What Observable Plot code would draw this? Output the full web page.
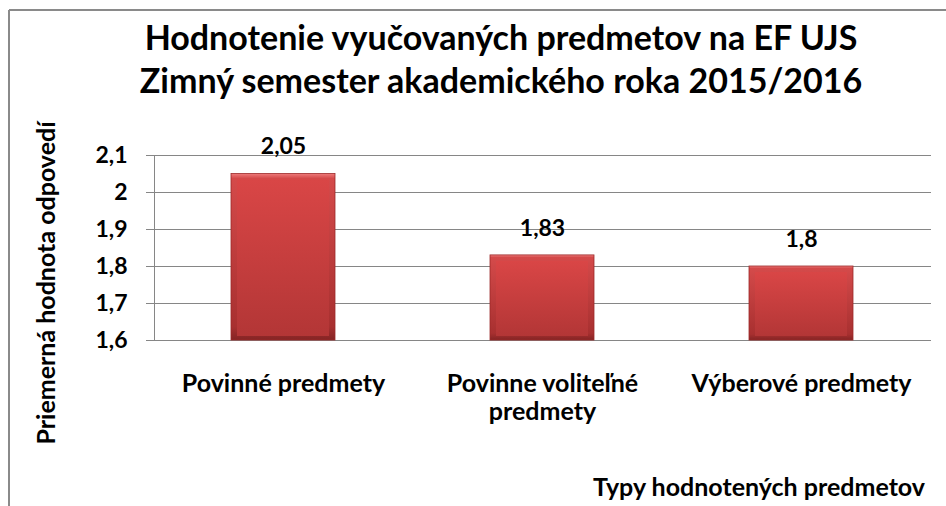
<!DOCTYPE html>
<html><head><meta charset="utf-8">
<script src="https://cdn.jsdelivr.net/npm/d3@7"></script>
<script src="https://cdn.jsdelivr.net/npm/@observablehq/plot@0.6"></script>
<style>
body{margin:0;background:#fff;}
#chart svg{display:block;}
</style>
</head><body><div id="chart"></div>
<script>
const categories = ["Povinné predmety", "Povinne voliteľné\npredmety", "Výberové predmety"];
const values = [2.05, 1.83, 1.8];
const yTicks = [1.6, 1.7, 1.8, 1.9, 2.0, 2.1];
const titleLines = ["Hodnotenie vyučovaných predmetov na EF UJS", "Zimný semester akademického roka 2015/2016"];
const yLabel = "Priemerná hodnota odpovedí";
const xLabel = "Typy hodnotených predmetov";

const data = categories.map((c, i) => ({category: c, value: values[i]}));
const fmt = v => d3.format(".2~f")(v).replace(".", ",");
const FONT = "Lato, 'DejaVu Sans', sans-serif";

const chart = Plot.plot({
  width: 946, height: 506,
  marginLeft: 154, marginRight: 15, marginTop: 155, marginBottom: 166,
  style: {fontFamily: FONT, fontWeight: 700, fontSize: "20px", color: "#000", background: "#fff", overflow: "visible"},
  x: {domain: categories, paddingInner: 0.598, paddingOuter: 0.299, label: null},
  y: {domain: [1.6, 2.1], label: null},
  marks: [
    Plot.gridY(yTicks, {stroke: "#868686", strokeOpacity: 1, strokeWidth: 1}),
    Plot.frame({anchor: "left", stroke: "#868686", strokeWidth: 1}),
    Plot.axisY({ticks: yTicks, tickSize: 8, tickPadding: 19, tickFormat: fmt, fontSize: 23, stroke: "#868686", fill: "#000", label: null}),
    Plot.axisX({tickSize: 0, tickPadding: 32, lineHeight: 1.12, fontSize: 25, fill: "#000", label: null}),
    Plot.barY(data, {x: "category", y1: 1.6, y2: "value", fill: "url(#barOuter)", stroke: "#9c2a2a", strokeWidth: 0.8, filter: null}),
    Plot.barY(data, {x: "category", y1: 1.6, y2: "value", fill: "url(#barInner)", insetLeft: 6, insetRight: 6, insetTop: 6, insetBottom: 4}),
    Plot.text(data, {x: "category", y: "value", text: d => fmt(d.value), dy: -27, fontSize: 23, fill: "#000"})
  ]
});

document.getElementById("chart").appendChild(chart);
const svg = d3.select(chart);

const defs = svg.insert("defs", ":first-child");
const g1 = defs.append("linearGradient").attr("id", "barOuter").attr("x1", 0).attr("y1", 0).attr("x2", 0).attr("y2", 1);
g1.append("stop").attr("offset", "0%").attr("stop-color", "#ee7b7b");
g1.append("stop").attr("offset", "3%").attr("stop-color", "#d44a4a");
g1.append("stop").attr("offset", "92%").attr("stop-color", "#a83030");
g1.append("stop").attr("offset", "100%").attr("stop-color", "#842424");
const g2 = defs.append("linearGradient").attr("id", "barInner").attr("x1", 0).attr("y1", 0).attr("x2", 0).attr("y2", 1);
g2.append("stop").attr("offset", "0%").attr("stop-color", "#d94646");
g2.append("stop").attr("offset", "100%").attr("stop-color", "#b33636");

// chart border (top and left visible)
svg.append("line").attr("x1", 9).attr("y1", 10).attr("x2", 946).attr("y2", 10).attr("stroke", "#8a8a8a").attr("stroke-width", 2);
svg.append("line").attr("x1", 9).attr("y1", 10).attr("x2", 9).attr("y2", 506).attr("stroke", "#8a8a8a").attr("stroke-width", 2);

// titles
const t = svg.append("g").attr("font-family", FONT).attr("font-weight", 700).attr("fill", "#000");
t.append("text").attr("x", 501).attr("y", 50).attr("text-anchor", "middle").attr("font-size", 34).text(titleLines[0]);
t.append("text").attr("x", 501).attr("y", 93).attr("text-anchor", "middle").attr("font-size", 34).text(titleLines[1]);
t.append("text").attr("transform", "translate(55,283) rotate(-90)").attr("text-anchor", "middle").attr("font-size", 25).text(yLabel);
t.append("text").attr("x", 925).attr("y", 496).attr("text-anchor", "end").attr("font-size", 25).text(xLabel);
</script>
</body></html>
